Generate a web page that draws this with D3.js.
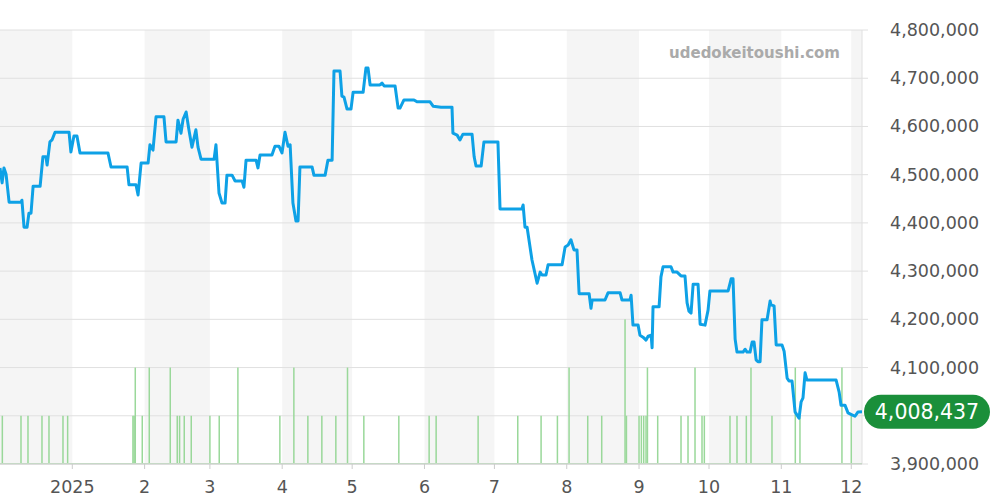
<!DOCTYPE html>
<html><head><meta charset="utf-8">
<script src="https://cdn.jsdelivr.net/npm/d3@7"></script>
<style>body{margin:0;background:#fff}svg{display:block}</style>
</head><body><svg id="c" width="1000" height="500"></svg>
<script>
// days since 2024-12-01
const priceDays = [0,0.9,1.7,2.6,3.9,9.0,9.4,10.3,11.6,12.4,13.3,14.2,17.2,18.4,19.7,20.2,21.4,22.3,23.6,29.6,30.4,31.7,33.0,34.3,46.3,47.6,54.5,55.3,58.3,59.2,60.5,63.5,64.3,65.6,66.9,70.3,71.2,75.5,76.3,77.6,78.5,79.8,81.0,82.3,84.0,84.9,86.2,91.8,92.6,93.9,95.2,96.5,97.3,99.5,100.8,103.8,104.6,105.5,109.8,110.6,111.5,116.6,117.9,119.6,120.9,122.2,123.5,124.4,125.6,126.9,127.8,128.6,133.8,134.6,139.4,140.6,142.4,143.2,145.8,146.6,147.5,148.8,150.5,151.4,155.7,156.9,157.8,158.7,162.9,163.8,164.7,169.4,170.7,171.5,173.2,177.5,178.8,184.4,185.7,189.1,193.8,194.2,196.0,197.2,198.5,202.4,203.3,204.1,206.3,207.5,213.5,214.4,223.8,224.3,225.1,226.0,228.1,230.3,231.6,232.4,234.1,235.0,241.0,242.3,243.6,244.8,246.1,247.4,248.3,252.6,253.4,253.9,259.4,260.7,265.9,266.7,270.1,270.6,271.4,273.6,274.4,275.7,277.0,277.9,279.2,279.6,280.0,282.6,283.4,284.3,287.7,288.6,290.3,292.0,293.7,294.6,295.4,296.3,297.2,299.3,300.2,302.3,303.6,304.4,312.2,313.5,314.3,315.2,316.0,318.6,319.5,320.3,321.6,322.5,323.3,324.2,325.0,325.9,326.7,328.9,330.2,330.6,331.9,332.8,335.3,336.2,337.5,338.3,339.6,340.9,342.6,343.5,344.3,345.2,346.0,358.5,359.8,360.6,362.3,363.6,365.3,366.6,367.9,369.6];
const priceValues = [4514000,4483000,4514000,4501000,4443000,4443000,4447000,4391000,4391000,4420000,4420000,4476000,4476000,4537000,4537000,4520000,4568000,4572000,4588000,4588000,4547000,4580000,4580000,4545000,4545000,4516000,4516000,4479000,4479000,4458000,4524000,4524000,4562000,4551000,4620000,4620000,4568000,4568000,4613000,4586000,4615000,4630000,4593000,4557000,4593000,4557000,4532000,4532000,4562000,4462000,4441000,4441000,4499000,4499000,4487000,4487000,4474000,4530000,4530000,4514000,4541000,4541000,4559000,4559000,4545000,4588000,4559000,4562000,4441000,4404000,4404000,4516000,4516000,4499000,4499000,4530000,4530000,4715000,4715000,4663000,4661000,4636000,4636000,4671000,4671000,4721000,4721000,4686000,4686000,4690000,4684000,4684000,4638000,4638000,4655000,4655000,4651000,4651000,4642000,4640000,4640000,4586000,4582000,4572000,4584000,4584000,4537000,4518000,4518000,4568000,4568000,4429000,4429000,4437000,4391000,4391000,4323000,4275000,4298000,4292000,4292000,4313000,4313000,4350000,4354000,4365000,4344000,4344000,4253000,4253000,4223000,4240000,4240000,4255000,4255000,4240000,4240000,4250000,4188000,4188000,4167000,4163000,4157000,4165000,4167000,4141000,4226000,4226000,4288000,4309000,4309000,4298000,4298000,4290000,4290000,4234000,4217000,4213000,4273000,4273000,4190000,4188000,4219000,4259000,4259000,4284000,4284000,4159000,4132000,4132000,4138000,4132000,4132000,4153000,4153000,4116000,4112000,4112000,4199000,4199000,4238000,4230000,4228000,4147000,4147000,4134000,4078000,4072000,4072000,4008000,3995000,4029000,4037000,4089000,4074000,4074000,4049000,4022000,4022000,4006000,4002000,3999000,4008000,4008437];
const volDays = [1,9,12,18,21,27,29,57,57.5,58,61,64,73,76,77,79,82,90,94,102,120,126,132,138,144,149,156,171,184,187,205,222,232,239,244,252,258,268,268.6,274,275,276,277,277.6,282,292,295,298,301,302,313,316,320,322,331,341,343,361,365];
const volValues = [1,1,1,1,1,1,1,1,1,2,1,2,2,1,1,1,1,1,1,2,1,2,1,1,1,2,1,1,1,1,1,1,1,1,2,1,1,3,1,1,1,1,1,2,1,1,1,2,1,1,1,1,1,2,1,2,1,2,1];
const yTicks = [3900000,4000000,4100000,4200000,4300000,4400000,4500000,4600000,4700000,4800000];
const monthLabels = ["2025","2","3","4","5","6","7","8","9","10","11","12"];
const lastPrice = 4008437;

const base = new Date(2024,11,1);
const toDate = d => new Date(base.getTime() + d*864e5);
const svg = d3.select("#c");
const L=0,R=862,T=30,B=464;
const x = d3.scaleTime().domain([base, toDate(369.6)]).range([L,R]);
const y = d3.scaleLinear().domain([3900000,4800000]).range([B,T]);
const yv = d3.scaleLinear().domain([0,9]).range([B,T]);
const by=y(lastPrice);

const bands=[[new Date(2024,11,1),new Date(2025,0,1)],[new Date(2025,1,1),new Date(2025,2,1)],[new Date(2025,3,1),new Date(2025,4,1)],[new Date(2025,5,1),new Date(2025,6,1)],[new Date(2025,7,1),new Date(2025,8,1)],[new Date(2025,9,1),new Date(2025,10,1)],[new Date(2025,11,1),toDate(369.6)]];
svg.selectAll("rect.band").data(bands).join("rect").attr("x",d=>Math.max(L,x(d[0]))).attr("width",d=>x(d[1])-Math.max(L,x(d[0])))
  .attr("y",T).attr("height",B-T).attr("fill","#f5f5f5");
svg.selectAll("line.g").data(yTicks).join("line").attr("x1",L).attr("x2",R+6).attr("y1",d=>y(d)).attr("y2",d=>y(d)).attr("stroke","#e0e0e0");
svg.append("line").attr("x1",R).attr("x2",R).attr("y1",T).attr("y2",B).attr("stroke","#e0e0e0");
svg.selectAll("text.yl").data(yTicks.filter(d=>Math.abs(y(d)-by)>22)).join("text").attr("x",890).attr("y",d=>y(d)+6).attr("font-family","DejaVu Sans").attr("font-size",17.5).attr("fill","#555").text(d=>d3.format(",")(d));
svg.selectAll("rect.v").data(volDays.map((d,i)=>[d,volValues[i]])).join("rect").attr("x",d=>x(toDate(d[0]))-0.75).attr("width",1.5)
  .attr("y",d=>yv(d[1])).attr("height",d=>B-yv(d[1])).attr("fill","#9ad89a");
svg.append("line").attr("x1",L).attr("x2",R).attr("y1",B-0.5).attr("y2",B-0.5).attr("stroke","#bfe6bf");
const months = d3.range(12).map(i=>new Date(2025,i,1));
svg.append("line").attr("x1",L).attr("x2",R).attr("y1",B).attr("y2",B).attr("stroke","#ccc");
svg.selectAll("line.xt").data(months).join("line").attr("x1",d=>x(d)).attr("x2",d=>x(d)).attr("y1",B).attr("y2",B+5).attr("stroke","#ccc");
svg.selectAll("text.xl").data(months).join("text").attr("x",d=>x(d)).attr("y",493).attr("text-anchor","middle").attr("font-family","DejaVu Sans").attr("font-size",17.5).attr("fill","#555").text((d,i)=>monthLabels[i]);
const pts = priceDays.map((d,i)=>[toDate(d),priceValues[i]]);
svg.append("path").datum(pts).attr("fill","none").attr("stroke","#0ea1e6").attr("stroke-width",3).attr("stroke-linejoin","round")
  .attr("d",d3.line().x(d=>x(d[0])).y(d=>y(d[1])));
svg.append("text").attr("x",840).attr("y",58).attr("text-anchor","end").attr("font-family","DejaVu Sans").attr("font-weight","bold").attr("font-size",15).attr("fill","#aaa").text("udedokeitoushi.com");
svg.append("rect").attr("x",864).attr("y",by-17).attr("width",126).attr("height",34).attr("rx",17).attr("fill","#1a8f3a");
svg.append("text").attr("x",927).attr("y",by+7.5).attr("text-anchor","middle").attr("font-family","DejaVu Sans").attr("font-size",20.5).attr("fill","#fff").text(d3.format(",")(lastPrice));
</script></body></html>
